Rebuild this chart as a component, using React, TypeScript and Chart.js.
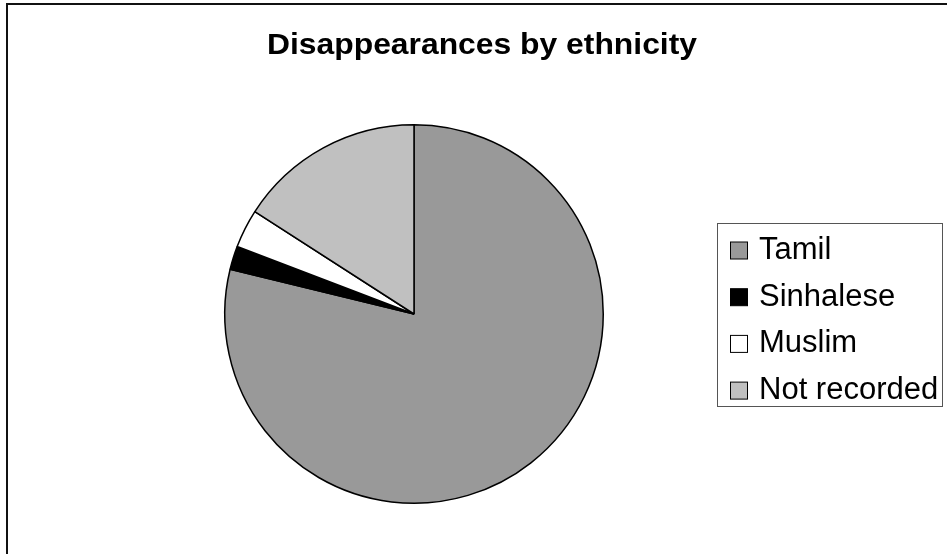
import React, { useEffect, useRef } from "react";
import { Chart, registerables } from "chart.js";

Chart.register(...registerables);

const TITLE = "Disappearances by ethnicity";
const categories = ["Tamil", "Sinhalese", "Muslim", "Not recorded"];
const shares = [78.8, 2.0, 3.3, 15.9];
const colors = ["#999999", "#000000", "#ffffff", "#c0c0c0"];

const decorPlugin = {
  id: "decor",
  beforeDraw(chart: any) {
    const ctx = chart.ctx;
    ctx.save();
    ctx.fillStyle = "#ffffff";
    ctx.fillRect(0, 0, chart.width, chart.height);
    ctx.strokeStyle = "#111111";
    ctx.lineWidth = 2;
    ctx.strokeRect(7, 4, chart.width + 50, chart.height + 50);
    ctx.restore();
  },
  afterDraw(chart: any) {
    const ctx = chart.ctx;
    ctx.save();
    // title
    ctx.font = "bold 29px 'Liberation Sans', Arial, sans-serif";
    ctx.fillStyle = "#000";
    ctx.textBaseline = "alphabetic";
    const w = ctx.measureText(TITLE).width;
    const target = 430;
    const sx = target / w;
    ctx.translate(267, 54);
    ctx.scale(sx, 1);
    ctx.fillText(TITLE, 0, 0);
    ctx.restore();

    // legend
    ctx.save();
    ctx.strokeStyle = "#555555";
    ctx.lineWidth = 1;
    ctx.fillStyle = "#ffffff";
    ctx.fillRect(717.5, 223.5, 225, 183);
    ctx.strokeRect(717.5, 223.5, 225, 183);
    const labels = chart.data.labels as string[];
    const bg = chart.data.datasets[0].backgroundColor as string[];
    ctx.font = "31px 'Liberation Sans', Arial, sans-serif";
    ctx.textBaseline = "alphabetic";
    labels.forEach((lab, i) => {
      const base = 259 + i * 46.7;
      ctx.fillStyle = bg[i];
      ctx.fillRect(730.5, base - 17, 17, 17);
      ctx.strokeStyle = "#000";
      ctx.lineWidth = 1;
      ctx.strokeRect(730.5, base - 17, 17, 17);
      ctx.fillStyle = "#000";
      ctx.fillText(lab, 759, base);
    });
    ctx.restore();
  },
};

export default function App() {
  const ref = useRef<HTMLCanvasElement>(null);
  useEffect(() => {
    if (!ref.current) return;
    const chart = new Chart(ref.current, {
      type: "pie",
      data: {
        labels: categories,
        datasets: [
          {
            data: shares,
            backgroundColor: colors,
            borderColor: "#000000",
            borderWidth: 1.5,
          },
        ],
      },
      options: {
        responsive: false,
        animation: false,
        layout: { padding: { left: 224, right: 343, top: 124, bottom: 50 } },
        plugins: {
          legend: { display: false },
          title: { display: false },
          tooltip: { enabled: false },
        },
      },
      plugins: [decorPlugin],
    });
    return () => chart.destroy();
  }, []);
  return (
    <canvas
      ref={ref}
      width={947}
      height={554}
      style={{ position: "fixed", left: 0, top: 0, width: 947, height: 554 }}
    />
  );
}
